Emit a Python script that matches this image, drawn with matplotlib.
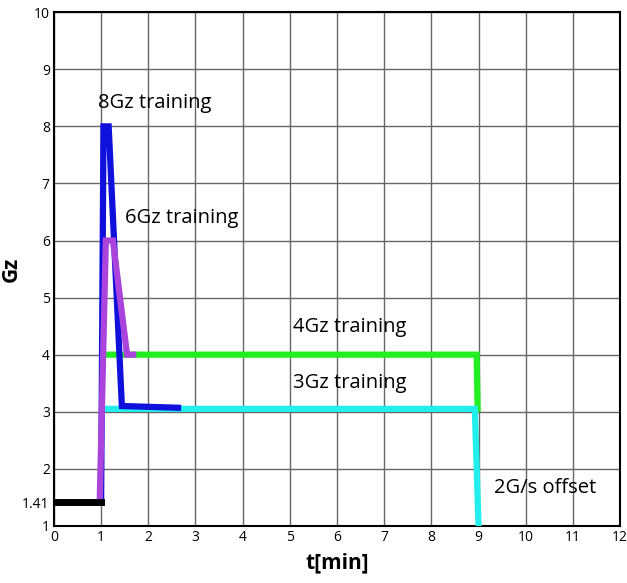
import matplotlib
matplotlib.use("Agg")
import matplotlib.pyplot as plt

plt.rcParams['font.family'] = ['Open Sans', 'DejaVu Sans']

# Data
base_t = [0, 1.0]
base_g = [1.41, 1.41]

g8_t = [1.0, 1.05, 1.16, 1.44, 2.63]
g8_g = [1.41, 8.0, 8.0, 3.1, 3.07]

g6_t = [0.97, 1.1, 1.25, 1.55, 1.68]
g6_g = [1.41, 6.0, 6.0, 4.0, 4.0]

g4_t = [1.1, 8.96, 8.98]
g4_g = [4.0, 4.0, 3.05]

g3_t = [1.06, 8.92, 9.0]
g3_g = [3.05, 3.05, 1.0]

xticks = list(range(0, 13))
yticks = [1, 1.41, 2, 3, 4, 5, 6, 7, 8, 9, 10]
ytick_labels = ['1', '1.41', '2', '3', '4', '5', '6', '7', '8', '9', '10']

labels = [("8Gz training", 0.94, 8.41),
          ("6Gz training", 1.51, 6.39),
          ("4Gz training", 5.06, 4.48),
          ("3Gz training", 5.06, 3.50),
          ("2G/s offset", 9.32, 1.67)]

fig = plt.figure(figsize=(6.27, 5.83), dpi=100)
ax = fig.add_axes([0.086, 0.098, 0.903, 0.881])

ax.set_xlim(0, 12)
ax.set_ylim(1, 10)

for x in xticks:
    ax.axvline(x, color='#666666', lw=1.0, zorder=1)
for y in range(2, 11):
    ax.axhline(y, color='#666666', lw=1.0, zorder=1)

ax.plot(g4_t, g4_g, color='#22ee22', lw=4.5, solid_joinstyle='miter', zorder=3)
ax.plot(g3_t, g3_g, color='#22eeee', lw=4.5, solid_joinstyle='miter', zorder=4)
ax.plot(g8_t, g8_g, color='#1010dd', lw=4.5, solid_joinstyle='miter', zorder=5)
ax.plot(g6_t, g6_g, color='#aa44dd', lw=4.5, solid_joinstyle='miter', zorder=6)
ax.plot(base_t, base_g, color='black', lw=5, zorder=7)

for txt, x, y in labels:
    ax.text(x, y, txt, fontsize=14.5, va='center', ha='left', color='black', zorder=8)

ax.set_xticks(xticks)
ax.set_xticklabels([str(x) for x in xticks], fontsize=10)
ax.set_yticks(yticks)
ax.set_yticklabels(ytick_labels, fontsize=10)
ax.tick_params(length=0, pad=3)

for s in ax.spines.values():
    s.set_color('black')
    s.set_linewidth(1.5)

ax.set_xlabel('t[min]', fontsize=15, fontweight='bold')
ax.xaxis.set_label_coords(0.5, -0.052)
ax.set_ylabel('Gz', fontsize=15, fontweight='bold')
ax.yaxis.set_label_coords(-0.057, 0.5)

fig.savefig('out.png', dpi=100)
